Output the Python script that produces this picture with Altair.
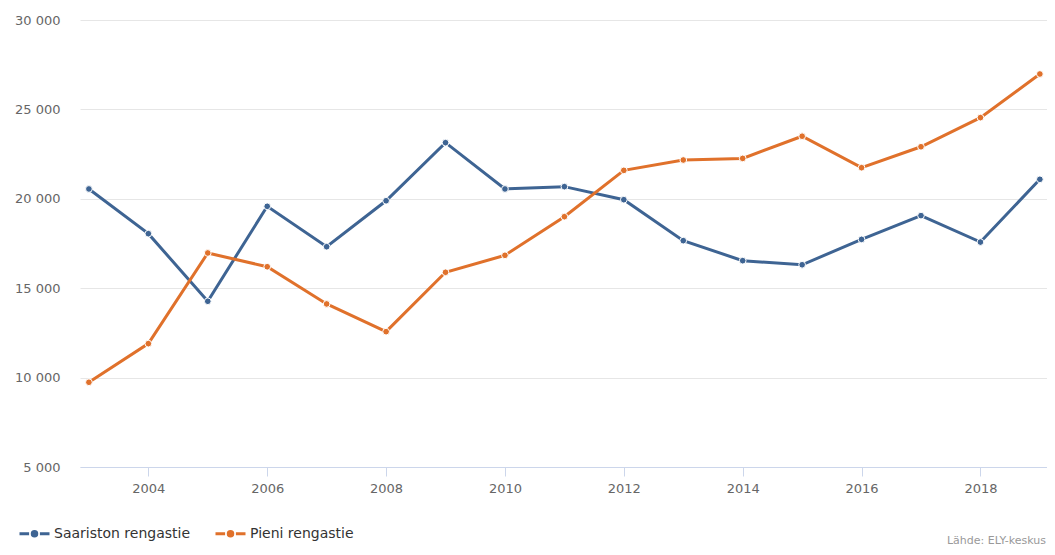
import altair as alt
import pandas as pd

years = list(range(2003, 2020))
saariston = [20550, 18050, 14270, 19580, 17320, 19890, 23140, 20550, 20680,
             19950, 17660, 16540, 16310, 17730, 19060, 17580, 21090]
pieni = [9740, 11900, 16970, 16200, 14120, 12570, 15890, 16840, 19000,
         21590, 22170, 22260, 23500, 21740, 22910, 24540, 26980]
series_names = ["Saariston rengastie", "Pieni rengastie"]
series_colors = ["#3e6493", "#e0712b"]
y_ticks = [5000, 10000, 15000, 20000, 25000, 30000]
x_ticks = list(range(2004, 2019, 2))
source_text = ["Lähde: ELY-keskus"]

rows = []
for y, a, b in zip(years, saariston, pieni):
    rows.append({"vuosi": y, "sarja": series_names[0], "arvo": a})
    rows.append({"vuosi": y, "sarja": series_names[1], "arvo": b})
df = pd.DataFrame(rows)

W, H = 967, 447
FONT = "DejaVu Sans"

legend_path = ("M-1,0H-0.36M0.36,0H1"
               "M-0.15,0A0.15,0.15,0,1,1,0.15,0A0.15,0.15,0,1,1,-0.15,0Z")

x_enc = alt.X("vuosi:Q",
              scale=alt.Scale(domain=[2002.85, 2019.12], nice=False, zero=False),
              axis=alt.Axis(values=x_ticks, format="d", title=None, grid=False,
                            domain=True, domainColor="#ccd6eb", ticks=True,
                            tickColor="#ccd6eb", tickSize=9, labelPadding=6,
                            labelFont=FONT, labelFontSize=13, labelColor="#666666"))
y_enc = alt.Y("arvo:Q",
              scale=alt.Scale(domain=[5000, 30000], nice=False, zero=False),
              axis=alt.Axis(values=y_ticks, title=None, grid=True,
                            gridColor="#e6e6e6", gridWidth=1, domain=False,
                            ticks=False, labelPadding=20,
                            labelExpr="replace(format(datum.value, ','), ',', ' ')",
                            labelFont=FONT, labelFontSize=13, labelColor="#666666"))
legend = alt.Legend(title=None, orient="none", legendX=-62, legendY=497,
                    direction="horizontal", symbolType=legend_path,
                    symbolSize=900, symbolStrokeWidth=3, labelFont=FONT,
                    labelFontSize=14, labelColor="#333333", labelOffset=3,
                    columnPadding=18)
color_enc = alt.Color("sarja:N",
                      scale=alt.Scale(domain=series_names, range=series_colors),
                      sort=series_names, legend=legend)

base = alt.Chart(df).encode(x=x_enc, y=y_enc, color=color_enc)
lines = base.mark_line(strokeWidth=3)
points = base.mark_point(filled=True, size=45, stroke="white",
                         strokeWidth=1, opacity=1)

src = alt.Chart(pd.DataFrame({"t": source_text})).mark_text(
    align="right", baseline="alphabetic", font=FONT, fontSize=11,
    color="#999999").encode(text="t:N", x=alt.value(W - 1), y=alt.value(524))

chart = alt.layer(lines, points, src).properties(
    width=W, height=H,
    background="white",
    autosize=alt.AutoSizeParams(type="none"),
    padding={"left": 72, "top": 12, "right": 0, "bottom": 80},
).configure_view(
    stroke="transparent", strokeWidth=0
).configure_axisY(
    domain=False, ticks=False
)

chart.save("out.html", embed_options={"renderer": "svg", "actions": False})
